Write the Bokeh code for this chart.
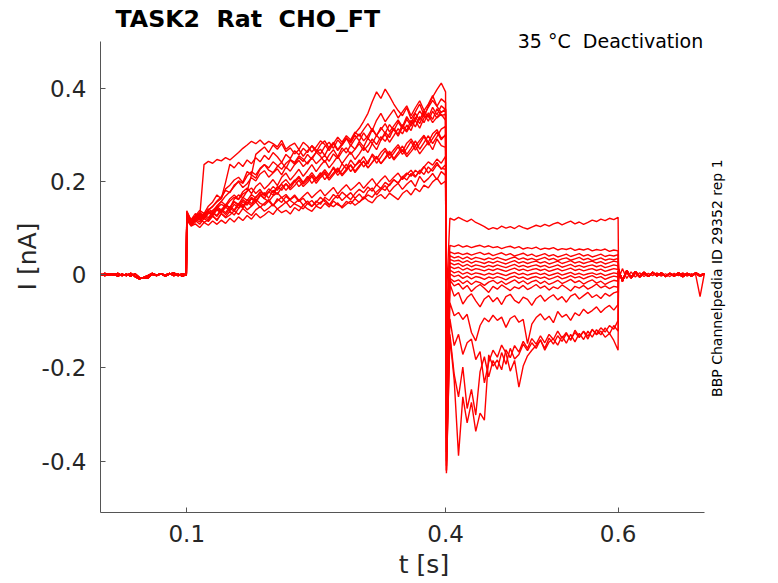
import math
from bokeh.plotting import figure
from bokeh.models import Range1d, Label, FixedTicker
from bokeh.embed import file_html
from bokeh.resources import INLINE

# ---------------- time grids (s) ----------------
t_pre = [0.0, 0.005, 0.01, 0.015, 0.02, 0.025, 0.03, 0.035, 0.04, 0.045, 0.05,
         0.055, 0.06, 0.065, 0.07, 0.075, 0.08, 0.085, 0.09, 0.095, 0.0995]
t_step = [0.100, 0.105, 0.110, 0.115, 0.120, 0.125, 0.130, 0.135, 0.140, 0.145,
          0.150, 0.155, 0.160, 0.165, 0.170, 0.175, 0.180, 0.185, 0.190, 0.195,
          0.200, 0.205, 0.210, 0.215, 0.220, 0.225, 0.230, 0.235, 0.240, 0.245,
          0.250, 0.255, 0.260, 0.265, 0.270, 0.275, 0.280, 0.285, 0.290, 0.295,
          0.300, 0.305, 0.310, 0.315, 0.320, 0.325, 0.330, 0.335, 0.340, 0.345,
          0.350, 0.355, 0.360, 0.365, 0.370, 0.375, 0.380, 0.385, 0.390, 0.395,
          0.400]
t_tail = [0.401,
          0.405, 0.410, 0.415, 0.420, 0.425, 0.430, 0.435, 0.440, 0.445, 0.450,
          0.455, 0.460, 0.465, 0.470, 0.475, 0.480, 0.485, 0.490, 0.495, 0.500,
          0.505, 0.510, 0.515, 0.520, 0.525, 0.530, 0.535, 0.540, 0.545, 0.550,
          0.555, 0.560, 0.565, 0.570, 0.575, 0.580, 0.585, 0.590, 0.595, 0.600]
t_post = [0.6005, 0.605, 0.61, 0.615, 0.62, 0.625, 0.63, 0.635, 0.64, 0.645, 0.65,
          0.655, 0.66, 0.665, 0.67, 0.675, 0.68, 0.685, 0.69, 0.695, 0.70]

# ---------------- baselines (nA) ----------------
base_pre_a = [0.001, -0.002, 0.002, -0.001, 0.003, -0.002, 0.001, -0.003, 0.002, -0.006,
              -0.008, -0.007, 0.001, -0.002, 0.002, -0.001, 0.003, -0.002, 0.001, -0.003, 0.000]
base_pre_b = [-0.002, 0.003, -0.001, 0.002, -0.003, 0.001, -0.002, 0.003, -0.004, -0.009,
              -0.006, -0.002, 0.003, -0.001, 0.002, -0.003, 0.001, 0.004, -0.002, 0.002, -0.001]
base_post_a = [0.012, -0.014, 0.009, -0.006, 0.007, -0.004, 0.005, -0.003, 0.004, -0.002,
               0.003, -0.004, 0.002, -0.003, 0.004, -0.002, 0.003, -0.001, 0.002, -0.003, 0.001]
base_post_b = [-0.010, 0.013, -0.008, 0.006, -0.005, 0.004, -0.004, 0.003, -0.002, 0.004,
               -0.003, 0.002, -0.004, 0.003, -0.002, 0.004, -0.003, 0.002, -0.001, -0.047, 0.002]
base_post_c = [0.008, -0.011, 0.006, -0.007, 0.004, -0.005, 0.003, -0.004, 0.005, -0.002,
               0.004, -0.003, 0.003, -0.002, 0.001, -0.004, 0.002, -0.003, 0.004, -0.001, 0.002]

# ---------------- activation step currents (nA), t = 0.100 .. 0.400 ----------------
step_1 = [0.118, 0.104, 0.109, 0.101, 0.112, 0.106, 0.115, 0.108, 0.117, 0.110,
          0.121, 0.113, 0.124, 0.116, 0.127, 0.119, 0.131, 0.122, 0.128, 0.136,
          0.129, 0.141, 0.133, 0.138, 0.130, 0.144, 0.137, 0.149, 0.141, 0.136,
          0.147, 0.142, 0.153, 0.145, 0.158, 0.150, 0.146, 0.157, 0.152, 0.163,
          0.155, 0.167, 0.159, 0.154, 0.166, 0.172, 0.163, 0.175, 0.168, 0.161,
          0.174, 0.181, 0.171, 0.185, 0.178, 0.192, 0.186, 0.199, 0.207, 0.194,
          0.201]
step_2 = [0.126, 0.109, 0.116, 0.108, 0.121, 0.114, 0.125, 0.118, 0.131, 0.122,
          0.128, 0.137, 0.129, 0.142, 0.134, 0.127, 0.139, 0.146, 0.136, 0.143,
          0.151, 0.141, 0.148, 0.156, 0.144, 0.153, 0.161, 0.149, 0.158, 0.147,
          0.155, 0.166, 0.157, 0.149, 0.162, 0.171, 0.159, 0.168, 0.176, 0.164,
          0.173, 0.162, 0.179, 0.186, 0.171, 0.182, 0.191, 0.177, 0.188, 0.196,
          0.183, 0.194, 0.202, 0.189, 0.211, 0.198, 0.206, 0.217, 0.204, 0.221,
          0.213]
step_3 = [0.132, 0.111, 0.119, 0.113, 0.126, 0.118, 0.133, 0.125, 0.138, 0.129,
          0.142, 0.136, 0.151, 0.143, 0.156, 0.148, 0.162, 0.153, 0.149, 0.158,
          0.147, 0.163, 0.155, 0.168, 0.159, 0.152, 0.147, 0.141, 0.153, 0.146,
          0.158, 0.151, 0.166, 0.159, 0.172, 0.164, 0.177, 0.169, 0.161, 0.174,
          0.183, 0.176, 0.188, 0.179, 0.193, 0.185, 0.198, 0.191, 0.204, 0.196,
          0.211, 0.203, 0.217, 0.209, 0.224, 0.215, 0.231, 0.222, 0.236, 0.228,
          0.226]
step_4 = [0.119, 0.105, 0.113, 0.121, 0.112, 0.118, 0.127, 0.116, 0.131, 0.124,
          0.136, 0.128, 0.142, 0.151, 0.139, 0.147, 0.156, 0.144, 0.153, 0.161,
          0.149, 0.158, 0.166, 0.154, 0.162, 0.171, 0.159, 0.168, 0.177, 0.165,
          0.174, 0.182, 0.169, 0.178, 0.187, 0.173, 0.184, 0.193, 0.181, 0.189,
          0.198, 0.185, 0.196, 0.206, 0.192, 0.203, 0.212, 0.199, 0.209, 0.218,
          0.204, 0.215, 0.224, 0.211, 0.221, 0.232, 0.218, 0.228, 0.241, 0.226,
          0.236]
step_5 = [0.128, 0.112, 0.119, 0.126, 0.121, 0.134, 0.129, 0.142, 0.137, 0.149,
          0.144, 0.156, 0.148, 0.161, 0.153, 0.166, 0.158, 0.171, 0.163, 0.157,
          0.169, 0.176, 0.165, 0.172, 0.161, 0.168, 0.157, 0.164, 0.152, 0.159,
          0.148, 0.155, 0.161, 0.151, 0.146, 0.154, 0.143, 0.151, 0.158, 0.149,
          0.156, 0.163, 0.171, 0.166, 0.178, 0.186, 0.181, 0.194, 0.203, 0.197,
          0.209, 0.218, 0.211, 0.224, 0.216, 0.231, 0.242, 0.235, 0.248, 0.239,
          0.254]
step_6 = [0.137, 0.116, 0.124, 0.131, 0.122, 0.136, 0.129, 0.141, 0.134, 0.148,
          0.143, 0.157, 0.151, 0.166, 0.159, 0.172, 0.164, 0.178, 0.171, 0.184,
          0.176, 0.189, 0.181, 0.195, 0.186, 0.199, 0.208, 0.194, 0.203, 0.214,
          0.201, 0.212, 0.221, 0.207, 0.218, 0.229, 0.215, 0.226, 0.236, 0.222,
          0.234, 0.243, 0.229, 0.241, 0.252, 0.238, 0.249, 0.261, 0.246, 0.257,
          0.268, 0.253, 0.264, 0.276, 0.259, 0.272, 0.284, 0.268, 0.291, 0.277,
          0.273]
step_7 = [0.123, 0.108, 0.117, 0.125, 0.119, 0.133, 0.127, 0.146, 0.138, 0.151,
          0.143, 0.162, 0.171, 0.165, 0.179, 0.186, 0.174, 0.183, 0.169, 0.177,
          0.189, 0.181, 0.196, 0.204, 0.192, 0.201, 0.211, 0.198, 0.207, 0.219,
          0.206, 0.214, 0.225, 0.213, 0.231, 0.219, 0.238, 0.227, 0.246, 0.234,
          0.241, 0.253, 0.237, 0.259, 0.248, 0.262, 0.271, 0.256, 0.268, 0.279,
          0.264, 0.282, 0.291, 0.276, 0.288, 0.299, 0.284, 0.302, 0.311, 0.293,
          0.298]
step_8 = [0.129, 0.114, 0.122, 0.131, 0.127, 0.139, 0.146, 0.158, 0.167, 0.181,
          0.176, 0.192, 0.199, 0.187, 0.195, 0.208, 0.201, 0.216, 0.223, 0.209,
          0.218, 0.227, 0.214, 0.231, 0.222, 0.236, 0.245, 0.232, 0.241, 0.251,
          0.238, 0.247, 0.256, 0.243, 0.259, 0.249, 0.264, 0.272, 0.258, 0.269,
          0.281, 0.266, 0.277, 0.291, 0.279, 0.296, 0.286, 0.302, 0.311, 0.297,
          0.316, 0.306, 0.322, 0.331, 0.314, 0.336, 0.343, 0.326, 0.338, 0.349,
          0.352]
step_9 = [0.135, 0.117, 0.126, 0.138, 0.131, 0.147, 0.156, 0.171, 0.163, 0.184,
          0.192, 0.203, 0.209, 0.198, 0.221, 0.214, 0.207, 0.226, 0.236, 0.229,
          0.242, 0.234, 0.226, 0.239, 0.247, 0.241, 0.255, 0.248, 0.237, 0.251,
          0.262, 0.269, 0.256, 0.274, 0.281, 0.266, 0.278, 0.291, 0.286, 0.303,
          0.314, 0.329, 0.346, 0.371, 0.392, 0.378, 0.398, 0.383, 0.366, 0.352,
          0.341, 0.358, 0.334, 0.349, 0.366, 0.342, 0.359, 0.374, 0.361, 0.348,
          0.356]
step_10 = [0.128, 0.113, 0.121, 0.129, 0.122, 0.134, 0.127, 0.139, 0.132, 0.145,
           0.137, 0.151, 0.143, 0.157, 0.149, 0.163, 0.155, 0.169, 0.176, 0.164,
           0.181, 0.172, 0.187, 0.195, 0.182, 0.191, 0.203, 0.189, 0.198, 0.211,
           0.196, 0.208, 0.217, 0.203, 0.214, 0.226, 0.212, 0.223, 0.235, 0.219,
           0.231, 0.244, 0.229, 0.241, 0.254, 0.238, 0.251, 0.265, 0.249, 0.262,
           0.276, 0.258, 0.271, 0.287, 0.269, 0.283, 0.298, 0.281, 0.296, 0.312,
           0.318]
step_11 = [0.131, 0.115, 0.124, 0.133, 0.126, 0.141, 0.134, 0.148, 0.157, 0.149,
           0.163, 0.171, 0.162, 0.178, 0.186, 0.174, 0.189, 0.197, 0.184, 0.193,
           0.204, 0.191, 0.209, 0.218, 0.203, 0.214, 0.226, 0.211, 0.223, 0.236,
           0.221, 0.234, 0.245, 0.229, 0.241, 0.254, 0.238, 0.251, 0.263, 0.247,
           0.259, 0.274, 0.262, 0.281, 0.268, 0.289, 0.301, 0.284, 0.298, 0.313,
           0.302, 0.321, 0.309, 0.334, 0.351, 0.338, 0.362, 0.381, 0.397, 0.411,
           0.392]
step_12 = [0.127, 0.118, 0.131, 0.124, 0.236, 0.243, 0.239, 0.247, 0.244, 0.251,
           0.246, 0.254, 0.262, 0.271, 0.278, 0.286, 0.281, 0.289, 0.279, 0.286,
           0.281, 0.274, 0.288, 0.269, 0.277, 0.282, 0.268, 0.284, 0.276, 0.263,
           0.274, 0.287, 0.279, 0.266, 0.281, 0.295, 0.284, 0.298, 0.289, 0.306,
           0.297, 0.311, 0.324, 0.309, 0.331, 0.346, 0.328, 0.341, 0.354, 0.336,
           0.349, 0.362, 0.341, 0.358, 0.373, 0.352, 0.366, 0.384, 0.361, 0.377,
           0.369]
step_13 = [0.122, 0.116, 0.125, 0.119, 0.131, 0.138, 0.147, 0.156, 0.163, 0.198,
           0.237, 0.229, 0.241, 0.232, 0.246, 0.238, 0.251, 0.242, 0.256, 0.247,
           0.262, 0.253, 0.241, 0.258, 0.249, 0.266, 0.257, 0.271, 0.262, 0.277,
           0.268, 0.259, 0.275, 0.284, 0.271, 0.289, 0.278, 0.294, 0.282, 0.299,
           0.287, 0.304, 0.291, 0.311, 0.298, 0.316, 0.303, 0.322, 0.309, 0.327,
           0.314, 0.333, 0.319, 0.338, 0.324, 0.345, 0.329, 0.351, 0.336, 0.344,
           0.331]
step_14 = [0.124, 0.112, 0.121, 0.129, 0.124, 0.136, 0.131, 0.143, 0.151, 0.146,
           0.158, 0.166, 0.161, 0.173, 0.179, 0.214, 0.258, 0.266, 0.274, 0.262,
           0.278, 0.269, 0.281, 0.264, 0.272, 0.259, 0.268, 0.254, 0.266, 0.276,
           0.263, 0.279, 0.287, 0.271, 0.284, 0.268, 0.281, 0.293, 0.276, 0.291,
           0.302, 0.287, 0.298, 0.314, 0.299, 0.311, 0.324, 0.306, 0.319, 0.332,
           0.317, 0.339, 0.324, 0.346, 0.331, 0.352, 0.337, 0.359, 0.343, 0.362,
           0.354]
step_15 = [0.119, 0.108, 0.116, 0.124, 0.119, 0.131, 0.138, 0.146, 0.157, 0.169,
           0.178, 0.189, 0.201, 0.196, 0.212, 0.221, 0.214, 0.228, 0.236, 0.224,
           0.219, 0.232, 0.241, 0.228, 0.246, 0.237, 0.251, 0.243, 0.258, 0.247,
           0.263, 0.254, 0.241, 0.257, 0.268, 0.253, 0.272, 0.261, 0.278, 0.269,
           0.286, 0.274, 0.293, 0.281, 0.299, 0.288, 0.306, 0.294, 0.314, 0.301,
           0.322, 0.309, 0.331, 0.317, 0.339, 0.326, 0.347, 0.333, 0.356, 0.341,
           0.344]
step_16 = [0.133, 0.116, 0.124, 0.117, 0.129, 0.122, 0.134, 0.127, 0.141, 0.133,
           0.146, 0.139, 0.153, 0.146, 0.161, 0.152, 0.167, 0.174, 0.163, 0.178,
           0.171, 0.186, 0.194, 0.181, 0.192, 0.203, 0.189, 0.198, 0.211, 0.196,
           0.207, 0.219, 0.204, 0.216, 0.228, 0.213, 0.224, 0.237, 0.221, 0.233,
           0.246, 0.231, 0.243, 0.256, 0.239, 0.252, 0.266, 0.249, 0.261, 0.274,
           0.258, 0.271, 0.286, 0.267, 0.281, 0.296, 0.278, 0.292, 0.306, 0.289,
           0.301]

# ---------------- deactivation tail currents (nA), t = 0.401 .. 0.600 ----------------
tail_1 = [-0.05,
          0.121, 0.117, 0.123, 0.118, 0.114, 0.119, 0.112, 0.108, 0.103, 0.097,
          0.101, 0.098, 0.104, 0.100, 0.103, 0.099, 0.105, 0.101, 0.098, 0.102,
          0.106, 0.103, 0.108, 0.104, 0.109, 0.112, 0.107, 0.111, 0.115, 0.109,
          0.113, 0.108, 0.112, 0.117, 0.114, 0.119, 0.116, 0.121, 0.118, 0.123]
tail_2 = [-0.10,
          0.063, 0.060, 0.064, 0.059, 0.062, 0.058, 0.061, 0.063, 0.059, 0.062,
          0.058, 0.060, 0.056, 0.059, 0.061, 0.057, 0.060, 0.055, 0.058, 0.056,
          0.059, 0.054, 0.057, 0.055, 0.058, 0.053, 0.056, 0.054, 0.057, 0.052,
          0.055, 0.053, 0.056, 0.051, 0.054, 0.052, 0.055, 0.050, 0.053, 0.051]
tail_3 = [-0.14,
          0.049, 0.045, 0.047, 0.043, 0.046, 0.042, 0.045, 0.048, 0.043, 0.046,
          0.041, 0.044, 0.047, 0.042, 0.045, 0.040, 0.043, 0.046, 0.041, 0.044,
          0.039, 0.042, 0.045, 0.040, 0.043, 0.038, 0.041, 0.044, 0.039, 0.042,
          0.045, 0.040, 0.043, 0.038, 0.041, 0.044, 0.039, 0.042, 0.040, 0.043]
tail_4 = [-0.17,
          0.041, 0.036, 0.039, 0.034, 0.038, 0.033, 0.037, 0.035, 0.032, 0.036,
          0.033, 0.037, 0.034, 0.031, 0.035, 0.038, 0.033, 0.036, 0.032, 0.035,
          0.031, 0.034, 0.037, 0.032, 0.035, 0.030, 0.034, 0.036, 0.031, 0.034,
          0.037, 0.032, 0.035, 0.030, 0.033, 0.036, 0.031, 0.034, 0.032, 0.035]
tail_5 = [-0.20,
          0.033, 0.029, 0.031, 0.026, 0.030, 0.025, 0.029, 0.027, 0.024, 0.028,
          0.025, 0.029, 0.026, 0.023, 0.027, 0.030, 0.025, 0.028, 0.024, 0.027,
          0.029, 0.025, 0.028, 0.023, 0.026, 0.029, 0.024, 0.027, 0.030, 0.025,
          0.028, 0.024, 0.027, 0.029, 0.025, 0.028, 0.023, 0.026, 0.029, 0.027]
tail_6 = [-0.23,
          0.026, 0.021, 0.024, 0.018, 0.022, 0.017, 0.021, 0.019, 0.016, 0.020,
          0.017, 0.021, 0.018, 0.015, 0.019, 0.022, 0.017, 0.020, 0.016, 0.019,
          0.021, 0.017, 0.020, 0.015, 0.018, 0.021, 0.016, 0.019, 0.022, 0.017,
          0.020, 0.016, 0.019, 0.021, 0.017, 0.020, 0.015, 0.018, 0.021, 0.019]
tail_7 = [-0.26,
          0.018, 0.013, 0.016, 0.010, 0.014, 0.009, 0.013, 0.011, 0.008, 0.012,
          0.009, 0.013, 0.010, 0.007, 0.011, 0.014, 0.009, 0.012, 0.008, 0.011,
          0.013, 0.009, 0.012, 0.007, 0.010, 0.013, 0.008, 0.011, 0.014, 0.009,
          0.012, 0.008, 0.011, 0.013, 0.009, 0.012, 0.007, 0.010, 0.013, 0.011]
tail_8 = [-0.29,
          0.010, 0.004, 0.007, 0.001, 0.005, 0.000, 0.004, 0.002, -0.001, 0.003,
          0.000, 0.004, 0.001, -0.002, 0.002, 0.005, 0.000, 0.003, -0.001, 0.002,
          0.004, 0.000, 0.003, -0.002, 0.001, 0.004, -0.001, 0.002, 0.005, 0.000,
          0.003, -0.001, 0.002, 0.004, 0.000, 0.003, -0.002, 0.001, 0.004, 0.002]
tail_9 = [-0.32,
          0.002, -0.004, -0.001, -0.008, -0.003, -0.009, -0.004, -0.006, -0.010, -0.005,
          -0.008, -0.004, -0.007, -0.011, -0.006, -0.003, -0.008, -0.005, -0.010, -0.006,
          -0.004, -0.008, -0.005, -0.010, -0.007, -0.003, -0.009, -0.006, -0.002, -0.007,
          -0.004, -0.009, -0.005, -0.002, -0.007, -0.004, -0.010, -0.006, -0.003, -0.005]
tail_10 = [-0.35,
           -0.008, -0.015, -0.011, -0.019, -0.013, -0.021, -0.014, -0.017, -0.023, -0.016,
           -0.012, -0.019, -0.014, -0.021, -0.016, -0.011, -0.018, -0.013, -0.020, -0.015,
           -0.012, -0.019, -0.014, -0.021, -0.017, -0.012, -0.019, -0.015, -0.010, -0.017,
           -0.013, -0.020, -0.015, -0.011, -0.018, -0.014, -0.021, -0.016, -0.012, -0.014]
tail_11 = [-0.38,
           -0.012, -0.024, -0.019, -0.031, -0.023, -0.036, -0.027, -0.021, -0.029, -0.038,
           -0.025, -0.031, -0.022, -0.028, -0.034, -0.026, -0.030, -0.023, -0.032, -0.027,
           -0.021, -0.029, -0.024, -0.033, -0.026, -0.030, -0.022, -0.028, -0.035, -0.025,
           -0.029, -0.023, -0.031, -0.026, -0.020, -0.028, -0.024, -0.030, -0.025, -0.027]
tail_12 = [-0.40,
           -0.020, -0.046, -0.038, -0.063, -0.049, -0.041, -0.056, -0.069, -0.052, -0.045,
           -0.058, -0.049, -0.064, -0.047, -0.042, -0.055, -0.061, -0.048, -0.053, -0.066,
           -0.051, -0.044, -0.057, -0.049, -0.043, -0.054, -0.047, -0.059, -0.046, -0.041,
           -0.052, -0.045, -0.038, -0.049, -0.043, -0.051, -0.040, -0.046, -0.039, -0.036]
tail_13 = [-0.41,
           -0.060, -0.088, -0.081, -0.096, -0.085, -0.124, -0.142, -0.109, -0.093, -0.101,
           -0.087, -0.098, -0.091, -0.113, -0.094, -0.088, -0.102, -0.096, -0.148, -0.106,
           -0.092, -0.084, -0.097, -0.089, -0.103, -0.079, -0.091, -0.085, -0.098, -0.082,
           -0.088, -0.074, -0.083, -0.077, -0.069, -0.081, -0.072, -0.066, -0.076, -0.064]
tail_14 = [-0.42,
           -0.095, -0.152, -0.128, -0.171, -0.146, -0.138, -0.182, -0.165, -0.232, -0.188,
           -0.162, -0.177, -0.151, -0.168, -0.207, -0.184, -0.241, -0.196, -0.174, -0.162,
           -0.152, -0.141, -0.158, -0.136, -0.149, -0.131, -0.143, -0.127, -0.139, -0.124,
           -0.135, -0.121, -0.132, -0.118, -0.127, -0.114, -0.123, -0.109, -0.117, -0.098]
tail_15 = [-0.42,
           -0.128, -0.214, -0.262, -0.198, -0.287, -0.246, -0.301, -0.208, -0.176, -0.219,
           -0.184, -0.203, -0.167, -0.192, -0.158, -0.181, -0.171, -0.149, -0.163, -0.146,
           -0.158, -0.139, -0.162, -0.144, -0.138, -0.151, -0.132, -0.147, -0.128, -0.144,
           -0.126, -0.139, -0.121, -0.134, -0.118, -0.129, -0.114, -0.127, -0.109, -0.121]
tail_16 = [-0.426,
           -0.134, -0.226, -0.388, -0.262, -0.318, -0.274, -0.336, -0.297, -0.312, -0.172,
           -0.196, -0.183, -0.204, -0.161, -0.178, -0.152, -0.166, -0.143, -0.158, -0.137,
           -0.149, -0.131, -0.146, -0.128, -0.139, -0.121, -0.136, -0.124, -0.141, -0.119,
           -0.133, -0.122, -0.138, -0.117, -0.129, -0.121, -0.134, -0.126, -0.141, -0.162]

steps = [step_1, step_2, step_3, step_4, step_5, step_6, step_7, step_8,
         step_9, step_10, step_11, step_12, step_13, step_14, step_15, step_16]
tails = [tail_5, tail_9, tail_2, tail_12, tail_7, tail_14, tail_3, tail_10,
         tail_1, tail_16, tail_6, tail_11, tail_4, tail_15, tail_8, tail_13]
pres = [base_pre_a, base_pre_b]
posts = [base_post_b, base_post_a, base_post_c]

x_ticks = [0.1, 0.4, 0.6]
x_tick_labels = ["0.1", "0.4", "0.6"]
y_ticks = [-0.4, -0.2, 0, 0.2, 0.4]
y_tick_labels = ["-0.4", "-0.2", "0", "0.2", "0.4"]

title_text = "TASK2\u00a0 Rat\u00a0 CHO_FT"
cond_text = "35 °C\u00a0 Deactivation"
side_text = "BBP Channelpedia ID 29352 rep 1"

TEXT = "#262626"
AXIS = "#555555"
FONT = "DejaVu Sans"

p = figure(width=778, height=583, x_range=Range1d(0, 0.75), y_range=Range1d(-0.51, 0.588),
           output_backend="svg", toolbar_location=None,
           min_border_left=100, min_border_right=31, min_border_top=0, min_border_bottom=71)

t_all = t_pre + t_step + t_tail + t_post
for k in range(len(steps)):
    post = posts[0] if k == 0 else posts[1 + k % 2]
    y_all = pres[k % 2] + steps[k] + tails[k] + post
    if len(y_all) != len(t_all):
        raise ValueError("length mismatch in trace %d: %d vs %d" % (k, len(y_all), len(t_all)))
    p.line(t_all, y_all, line_color="#ff0000", line_width=1.4)

p.grid.visible = False
p.outline_line_color = None
p.background_fill_color = "white"

p.xaxis.ticker = FixedTicker(ticks=x_ticks)
p.yaxis.ticker = FixedTicker(ticks=y_ticks)
p.xaxis.major_label_overrides = {v: s for v, s in zip(x_ticks, x_tick_labels)}
p.yaxis.major_label_overrides = {v: s for v, s in zip(y_ticks, y_tick_labels)}
p.xaxis.bounds = (0, 0.7)
p.yaxis.bounds = (-0.51, 0.5)
for ax in (p.xaxis, p.yaxis):
    ax.axis_line_color = AXIS
    ax.axis_line_width = 1
    ax.major_tick_line_color = AXIS
    ax.major_tick_in = 5
    ax.major_tick_out = 0
    ax.minor_tick_line_color = None
    ax.major_label_text_font = FONT
    ax.major_label_text_font_size = "23px"
    ax.major_label_text_color = TEXT
    ax.axis_label_text_font = FONT
    ax.axis_label_text_font_size = "25px"
    ax.axis_label_text_font_style = "normal"
    ax.axis_label_text_color = TEXT
p.xaxis.axis_label = "t [s]"
p.yaxis.axis_label = "I [nA]"
p.xaxis.major_label_standoff = 12
p.yaxis.major_label_standoff = 14
p.xaxis.axis_label_standoff = 5
p.yaxis.axis_label_standoff = -3

p.add_layout(Label(x=0.0174, y=0.549, text=title_text, text_align="left", text_baseline="alphabetic",
                   text_font=FONT, text_font_size="23.7px", text_font_style="bold", text_color="black"))
p.add_layout(Label(x=0.6987, y=0.501, text=cond_text, text_align="right", text_baseline="alphabetic",
                   text_font=FONT, text_font_size="19px", text_color="black"))
p.add_layout(Label(x=0.715, y=-0.0075, text=side_text, angle=math.pi / 2, text_align="center",
                   text_baseline="middle", text_font=FONT, text_font_size="14px", text_color="black"))

open("out.html", "w").write(file_html(p, INLINE))
